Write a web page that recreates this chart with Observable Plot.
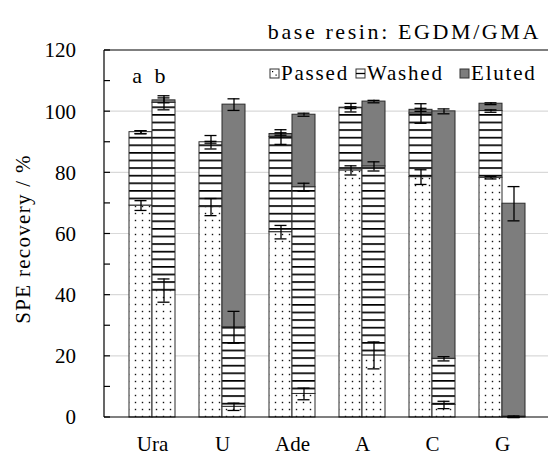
<!DOCTYPE html>
<html>
<head>
<meta charset="utf-8">
<script src="https://cdn.jsdelivr.net/npm/d3@7"></script>
<script src="https://cdn.jsdelivr.net/npm/@observablehq/plot@0.6"></script>
<style>
  body { margin: 0; background: #fff; }
  #chart { width: 548px; height: 455px; }
  #chart svg text { font-family: "Liberation Serif", "Times New Roman", Times, "Nimbus Roman", "FreeSerif", serif; }
</style>
</head>
<body>
<div id="chart"></div>
<script>
// Nucleobases / nucleosides loaded on the SPE cartridge
const categories = ["Ura", "U", "Ade", "A", "C", "G"];
const columns = ["a", "b"];
const fractions = ["Passed", "Washed", "Eluted"];

// Recovery (%) per fraction, condition a
const passedA = [69.3, 68.8, 60.6, 80.8, 78.6, 78.4];
const washedA = [24.0, 21.2, 31.1, 20.5, 20.8, 21.8];
const elutedA = [0.0, 0.0, 1.0, 0.0, 1.2, 2.4];
const passedErrA = [1.6, 2.8, 2.2, 1.5, 2.4, 0.4];
const washedErrA = [0.5, 2.2, 2.4, 1.4, 3.2, 0.4];
const elutedErrA = [0.5, 0.3, 0.4, 0.3, 0.5, 0.3];

// Recovery (%) per fraction, condition b
const passedB = [41.5, 3.5, 7.7, 20.3, 4.1, 0.0];
const washedB = [61.4, 26.0, 67.6, 61.8, 15.1, 0.3];
const elutedB = [0.8, 72.8, 23.7, 21.2, 80.9, 69.6];
const passedErrB = [3.8, 1.2, 1.9, 4.4, 1.2, 0.0];
const washedErrB = [2.3, 5.2, 1.3, 1.5, 0.7, 0.2];
const elutedErrB = [0.8, 1.9, 0.5, 0.4, 0.8, 5.6];

const yTicks = [0, 20, 40, 60, 80, 100, 120];
const yMinorTicks = d3.range(0, 121, 10);
const yGrid = [20, 40, 60, 80, 100];

// Long-format table: one row per stacked segment, with the running top for error bars
const series = {
  a: [[passedA, passedErrA], [washedA, washedErrA], [elutedA, elutedErrA]],
  b: [[passedB, passedErrB], [washedB, washedErrB], [elutedB, elutedErrB]]
};
const rows = [];
categories.forEach((cat, i) => {
  columns.forEach(col => {
    let top = 0;
    fractions.forEach((frac, k) => {
      const [vals, errs] = series[col][k];
      top += vals[i];
      rows.push({cat, col, frac, value: vals[i], err: errs[i], top});
    });
  });
});

const serif = "\"Liberation Serif\", \"Times New Roman\", Times, serif";
const W = 548, H = 455, mL = 104, mR = 0, mT = 50, mB = 38;

const plot = Plot.plot({
  width: W,
  height: H,
  marginTop: mT,
  marginBottom: mB,
  marginLeft: mL,
  marginRight: mR,
  style: {fontFamily: serif, fontSize: "21px", color: "#000", background: "transparent"},
  fx: {domain: categories, paddingInner: 0, paddingOuter: 0.162, align: 0.55, label: null},
  x: {domain: columns, paddingInner: 0, paddingOuter: 0.5, axis: null},
  y: {domain: [0, 120], label: null, axis: null},
  color: {domain: fractions, range: ["url(#dots)", "url(#hlines)", "#7d7d7d"]},
  marks: [
    Plot.barY(rows, {fx: "cat", x: "col", y: "value", fill: "frac", stroke: "#2b2b2b", strokeWidth: 1}),
    Plot.ruleX(rows, {fx: "cat", x: "col", y1: d => d.top - d.err, y2: d => d.top + d.err, stroke: "#000", strokeWidth: 1.3}),
    Plot.tickY(rows, {fx: "cat", x: "col", y: d => d.top + d.err, insetLeft: 5.5, insetRight: 5.5, stroke: "#000", strokeWidth: 1.3}),
    Plot.tickY(rows, {fx: "cat", x: "col", y: d => d.top - d.err, insetLeft: 5.5, insetRight: 5.5, stroke: "#000", strokeWidth: 1.3}),
    Plot.text([{cat: "Ura", col: "a"}, {cat: "Ura", col: "b"}], {fx: "cat", x: "col", y: 109.5, text: "col", lineAnchor: "bottom", dx: -4, fontSize: 22}),
    Plot.axisFx({anchor: "bottom", tickSize: 0, tickPadding: 19, fontSize: 21, label: null})
  ]
});

document.getElementById("chart").appendChild(plot);

const svg = d3.select(plot);
const y = plot.scale("y");
const ys = v => y.apply(v);

// Fill patterns for the Passed (dots) and Washed (horizontal lines) fractions
const defs = svg.insert("defs", ":first-child");
const dots = defs.append("pattern").attr("id", "dots").attr("patternUnits", "userSpaceOnUse")
  .attr("width", 7).attr("height", 7);
dots.append("rect").attr("width", 7).attr("height", 7).attr("fill", "#fff");
dots.append("rect").attr("x", 2.8).attr("y", 2.8).attr("width", 1.4).attr("height", 1.4).attr("fill", "#111");
const hl = defs.append("pattern").attr("id", "hlines").attr("patternUnits", "userSpaceOnUse")
  .attr("width", 8).attr("height", 7.6);
hl.append("rect").attr("width", 8).attr("height", 7.6).attr("fill", "#fff");
hl.append("rect").attr("y", 0).attr("width", 8).attr("height", 1.7).attr("fill", "#000");

// Gridlines, drawn underneath the bars
const under = svg.insert("g", "g");
under.selectAll("line").data(yGrid).join("line")
  .attr("x1", mL).attr("x2", W - mR)
  .attr("y1", ys).attr("y2", ys)
  .attr("stroke", "#d9d9d9").attr("stroke-width", 1.2);

// Frame: left spine, baseline and top edge, with inward ticks every 10
const over = svg.append("g").attr("stroke", "#000").attr("stroke-width", 1.2);
over.selectAll(".h").data([0, 120]).join("line").attr("class", "h")
  .attr("x1", mL).attr("x2", W - mR).attr("y1", ys).attr("y2", ys);
over.append("line").attr("x1", mL).attr("x2", mL).attr("y1", ys(0)).attr("y2", ys(120));
over.selectAll(".t").data(yMinorTicks).join("line").attr("class", "t")
  .attr("x1", mL).attr("x2", mL + 6).attr("y1", ys).attr("y2", ys);

// Y tick labels
svg.append("g")
  .attr("font-size", 21).attr("text-anchor", "end")
  .selectAll("text").data(yTicks).join("text")
  .attr("x", 76).attr("y", ys).attr("dy", "0.35em")
  .text(d => d);

// Title
svg.append("text")
  .attr("x", 541).attr("y", 39)
  .attr("text-anchor", "end")
  .attr("font-size", 22)
  .attr("letter-spacing", 2.6)
  .text("base resin: EGDM/GMA");

// Y axis title
svg.append("text")
  .attr("transform", "translate(23,239) rotate(-90)")
  .attr("text-anchor", "middle").attr("dy", "0.35em")
  .attr("font-size", 21)
  .attr("letter-spacing", 1.3)
  .text("SPE recovery / %");

// Legend
const legendItems = [
  {label: "Passed", x: 270, fill: "#fff", kind: "dot"},
  {label: "Washed", x: 356, fill: "#fff", kind: "line"},
  {label: "Eluted", x: 460, fill: "#7d7d7d", kind: "solid"}
];
const lg = svg.append("g");
legendItems.forEach(d => {
  const g = lg.append("g").attr("transform", `translate(${d.x},69)`);
  g.append("rect").attr("width", 9).attr("height", 9).attr("fill", d.fill)
    .attr("stroke", "#333").attr("stroke-width", 1);
  if (d.kind === "dot") {
    g.append("rect").attr("x", 2).attr("y", 2).attr("width", 1.2).attr("height", 1.2).attr("fill", "#000");
    g.append("rect").attr("x", 5.5).attr("y", 5.5).attr("width", 1.2).attr("height", 1.2).attr("fill", "#000");
  } else if (d.kind === "line") {
    g.append("line").attr("x1", 0).attr("x2", 9).attr("y1", 4.5).attr("y2", 4.5).attr("stroke", "#000").attr("stroke-width", 1.3);
  }
  g.append("text").attr("x", 11).attr("y", 11)
    .attr("text-anchor", "start")
    .attr("font-size", 21).attr("letter-spacing", 1.8)
    .text(d.label);
});
</script>
</body>
</html>
